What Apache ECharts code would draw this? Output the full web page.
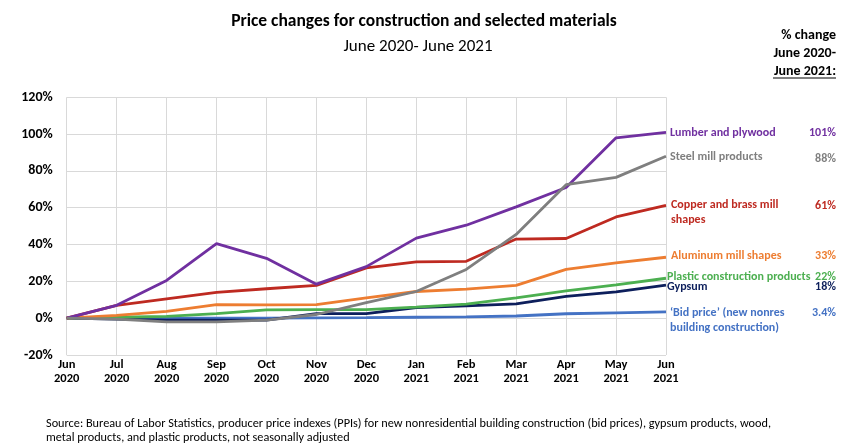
<!DOCTYPE html>
<html><head><meta charset="utf-8">
<script src="https://cdn.jsdelivr.net/npm/echarts@6/dist/echarts.min.js"></script>
<style>html,body{margin:0;padding:0;background:#fff}#main{width:851px;height:446px}</style>
</head><body><div id="main"></div>
<script>
var categories = ['Jun\n2020','Jul\n2020','Aug\n2020','Sep\n2020','Oct\n2020','Nov\n2020','Dec\n2020','Jan\n2021','Feb\n2021','Mar\n2021','Apr\n2021','May\n2021','Jun\n2021'];
var lumber   = [0, 7, 20.5, 40.5, 32.5, 18.5, 28, 43.5, 50.5, 60.5, 71, 98, 101];
var steel    = [0, -0.5, -2, -2, -1, 2, 8.5, 14.5, 26.5, 45.5, 72.5, 76.5, 88];
var copper   = [0, 7, 10.5, 14, 16, 17.8, 27.3, 30.6, 30.9, 43, 43.3, 55, 61.3];
var aluminum = [0, 1.5, 3.7, 7.4, 7.2, 7.4, 11, 14.5, 15.8, 17.8, 26.5, 30, 33.1];
var plastic  = [0, 0.5, 1, 2.5, 4.5, 4.6, 4.6, 6, 7.6, 11, 14.8, 18.1, 21.7];
var gypsum   = [0, -0.5, -1, -1, -1, 2.5, 2.5, 5.8, 6.7, 7.8, 11.8, 14.3, 18];
var bidPrice = [0, 0, 0, 0, 0, 0.2, 0.3, 0.5, 0.7, 1.2, 2.4, 2.9, 3.4];
var yTicks = {min: -20, max: 120, interval: 20};
var seriesNames = ['Lumber and plywood','Steel mill products','Copper and brass mill\nshapes','Aluminum mill shapes','Plastic construction products','Gypsum','\u2018Bid price\u2019 (new nonres\nbuilding construction)'];
var pctChange = ['101%','88%','61%','33%','22%','18%','3.4%'];

var colors = ['#7030A0','#7f7f7f','#BE2A21','#ED7D31','#4CAF50','#0D1F5C','#4472C4'];
var dataList = [lumber, steel, copper, aluminum, plastic, gypsum, bidPrice];
var labelPos = [[670,133],[670,157],[671,212],[671,256],[667,277],[667,287],[670,320]];
var pctY = [133,159,206,256,277,287,313];
var FONT = 'Carlito, Calibri, "Liberation Sans", sans-serif';

var chart = echarts.init(document.getElementById('main'), null, {renderer:'canvas'});
var drawOrder = [6,5,4,3,2,0,1];
var series = drawOrder.map(function(i){
  return {name: seriesNames[i], type:'line', data: dataList[i], symbol:'none',
    lineStyle:{color: colors[i], width:2.8}, itemStyle:{color: colors[i]}, z: 2, animation:false};
});
var graphics = [
  {type:'text', x:424, y:22, style:{text:'Price changes for construction and selected materials', font:'bold 17.5px '+FONT, fill:'#000', textAlign:'center', textVerticalAlign:'middle'}},
  {type:'text', x:418, y:47, style:{text:'June 2020- June 2021', font:'17px '+FONT, fill:'#000', textAlign:'center', textVerticalAlign:'middle'}},
  {type:'text', x:836, y:35, style:{text:'% change', font:'bold 14px '+FONT, fill:'#000', textAlign:'right', textVerticalAlign:'middle'}},
  {type:'text', x:836, y:53, style:{text:'June 2020-', font:'bold 14px '+FONT, fill:'#000', textAlign:'right', textVerticalAlign:'middle'}},
  {type:'text', x:836, y:71, style:{text:'June 2021:', font:'bold 14px '+FONT, fill:'#000', textAlign:'right', textVerticalAlign:'middle'}},
  {type:'line', shape:{x1:773, y1:78, x2:836, y2:78}, style:{stroke:'#000', lineWidth:1}},
  {type:'text', x:46, y:423.5, style:{text:'Source: Bureau of Labor Statistics, producer price indexes (PPIs) for new nonresidential building construction (bid prices), gypsum products, wood,', font:'12.25px '+FONT, fill:'#000', textVerticalAlign:'middle'}},
  {type:'text', x:46, y:438, style:{text:'metal products, and plastic products, not seasonally adjusted', font:'12.25px '+FONT, fill:'#000', textVerticalAlign:'middle'}}
];
for (var i=0;i<seriesNames.length;i++){
  graphics.push({type:'text', x:labelPos[i][0], y:labelPos[i][1], style:{text:seriesNames[i], font:'bold 12px '+FONT, fill:colors[i], textVerticalAlign:'middle', lineHeight:15}});
  graphics.push({type:'text', x:836, y:pctY[i], style:{text:pctChange[i], font:'bold 12px '+FONT, fill:colors[i], textAlign:'right', textVerticalAlign:'middle'}});
}
chart.setOption({
  animation:false,
  grid:{left:66.7, right:185, top:97.3, bottom:91, containLabel:false},
  xAxis:{type:'category', data:categories, boundaryGap:false,
    axisLine:{show:true, lineStyle:{color:'#d9d9d9', width:1}}, axisTick:{show:false},
    splitLine:{show:true, lineStyle:{color:'#d9d9d9', width:1}},
    axisLabel:{color:'#000', fontFamily:'Carlito', fontWeight:'bold', fontSize:12.5, lineHeight:14, margin:3, interval:0}},
  yAxis:{type:'value', min:yTicks.min, max:yTicks.max, interval:yTicks.interval,
    axisLine:{show:false}, axisTick:{show:false},
    splitLine:{show:true, lineStyle:{color:'#d9d9d9', width:1}},
    axisLabel:{formatter:'{value}%', color:'#000', fontFamily:'Carlito', fontWeight:'bold', fontSize:14, margin:14}},
  series: series,
  graphic: graphics
});
</script></body></html>
